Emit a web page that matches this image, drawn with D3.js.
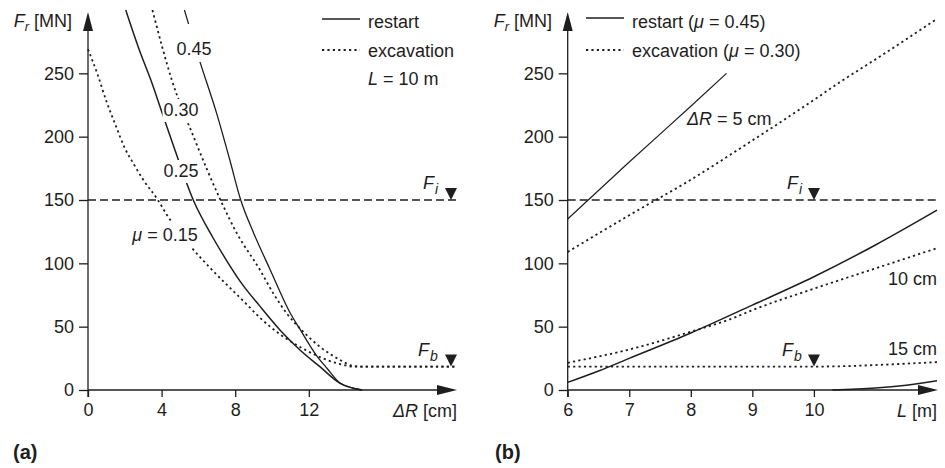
<!DOCTYPE html>
<html>
<head>
<meta charset="utf-8">
<script src="https://cdn.jsdelivr.net/npm/d3@7"></script>
<style>
  html, body { margin: 0; padding: 0; background: #fff; }
  svg { display: block; font-family: "Liberation Sans", Arial, Helvetica, sans-serif; }
</style>
</head>
<body>
<svg id="chart" width="945" height="468"></svg>
<script>
// ---- data -------------------------------------------------------------
// (a) required force F_r [MN] against radial deformation ΔR [cm], L = 10 m
const restart025 = [[2.05,300],[2.8,268],[3.46,243],[4.0,220],[4.64,193],[5.72,150],[6.8,120],[7.5,103],[8.26,86],[9.35,66],[10.43,47.4],[11.52,31.6],[12.6,18.4],[13.7,5.3],[14.9,0]];
const restart045 = [[5.24,300],[6,263],[7,218],[7.7,182],[8.3,150],[9.0,124],[9.9,95],[10.98,61],[11.52,48],[12.43,27],[13.0,17],[13.7,5.5],[14.9,0]];
const excav015   = [[0,269],[0.5,250],[1,228],[1.5,209],[2,191],[2.5,178],[3,166],[3.8,150],[4.3,138],[5,124],[5.6,113],[6.8,94],[7.9,78],[8.6,68],[9.35,57],[10.43,44],[11.52,34],[12.6,26],[13.7,20.5],[14.4,18.5],[20,18.5]];
const excav030   = [[3.5,300],[4.55,245],[5.82,197],[7.2,150],[8.08,124],[9.35,94.7],[10.07,76.3],[10.8,60.5],[11.7,46],[12.6,34.2],[13.7,23.7],[14.4,19],[14.8,18.5],[20,18.5]];

// (b) required force F_r [MN] against shield length L [m]
const restartDR5   = [[6,135],[7,180],[8,224],[8.58,250]];
const excavDR5     = [[6,109],[7,138],[8,166],[8.8,190.7],[9,197],[10,229],[10.42,243],[11,261],[12,293]];
const restartDR10  = [[6,6],[6.5,15],[7,25],[8,45],[9,67],[10,89.4],[11,114.5],[12,142]];
const excavDR10    = [[6,21.5],[7,32],[8,46],[8.7,57],[9,63],[10,80],[11,96],[12,112]];
const restartDR15  = [[10.3,0],[11,1.5],[11.5,3.8],[12,7.3]];
const excavDR15    = [[6,18.5],[10,18.5],[10.5,18.8],[11,19.7],[11.5,20.8],[12,22]];

const Fi = 150;     // installed thrust force
const Fb = 18.5;    // back-up force
const yTicks  = [0, 50, 100, 150, 200, 250];
const xTicksA = [0, 4, 8, 12];
const xTicksB = [6, 7, 8, 9, 10];

// ---- layout -----------------------------------------------------------
const ink = "#1e1e1e";
const svg = d3.select("#chart");
const y  = d3.scaleLinear().domain([0, 300]).range([390, 10]);
const xA = d3.scaleLinear().domain([0, 20]).range([88, 456]);
const xB = d3.scaleLinear().domain([6, 12]).range([567.7, 937]);

const DOT = "2.2,3.2", DASH = "8,4";

function panel(g, x, xTicks, yLabelRight) {
  // y axis
  const ya = g.append("g").attr("transform", `translate(${x.range()[0]},0)`)
    .call(d3.axisLeft(y).tickValues(yTicks).tickSize(9).tickPadding(5));
  ya.select(".domain").remove();
  ya.selectAll("line").attr("stroke", ink).attr("stroke-width", 1.3);
  ya.selectAll("text").attr("font-size", 18).attr("fill", ink).attr("font-family", null);
  // x axis
  const xa = g.append("g").attr("transform", `translate(0,${y(0)})`)
    .call(d3.axisBottom(x).tickValues(xTicks).tickSize(7).tickPadding(6).tickFormat(d3.format("d")));
  xa.select(".domain").remove();
  xa.selectAll("line").attr("stroke", ink).attr("stroke-width", 1.3);
  xa.selectAll("text").attr("font-size", 18).attr("fill", ink).attr("font-family", null);

  const x0 = x.range()[0], x1 = x.range()[1] + 1;
  g.append("line").attr("x1", x0).attr("x2", x0).attr("y1", y(0) + 7).attr("y2", 28)
    .attr("stroke", ink).attr("stroke-width", 1.3);
  g.append("line").attr("x1", x0).attr("x2", x1 - 18).attr("y1", y(0)).attr("y2", y(0))
    .attr("stroke", ink).attr("stroke-width", 1.3);
  g.append("path").attr("d", `M${x0},12 L${x0 - 5},31 L${x0 + 5},31 Z`).attr("fill", ink);
  g.append("path").attr("d", `M${x1},${y(0)} L${x1 - 20},${y(0) - 5} L${x1 - 20},${y(0) + 5} Z`).attr("fill", ink);

  // F_r [MN]
  const t = g.append("text").attr("x", yLabelRight).attr("y", 27).attr("text-anchor", "end")
    .attr("font-size", 18).attr("fill", ink);
  t.append("tspan").attr("font-style", "italic").text("F");
  t.append("tspan").attr("font-style", "italic").attr("font-size", 13).attr("dy", 4).text("r");
  t.append("tspan").attr("dy", -4).text(" [MN]");
}

function curve(g, x, data, dash, width) {
  const line = d3.line().x(d => x(d[0])).y(d => y(d[1])).curve(d3.curveMonotoneX);
  g.append("path").datum(data).attr("d", line).attr("fill", "none")
    .attr("stroke", ink).attr("stroke-width", width || 1.5)
    .attr("stroke-dasharray", dash || null);
}

function hline(g, x, v, dash) {
  g.append("line").attr("x1", x.range()[0]).attr("x2", x.range()[1] + 1)
    .attr("y1", y(v)).attr("y2", y(v)).attr("stroke", ink).attr("stroke-width", 1.4)
    .attr("stroke-dasharray", dash);
}

function marker(g, cx, v, name, sub, tx) {
  const yy = y(v);
  g.append("path").attr("d", `M${cx - 6},${yy - 12} L${cx + 6},${yy - 12} L${cx},${yy} Z`).attr("fill", ink);
  const t = g.append("text").attr("x", tx).attr("y", yy - 11).attr("font-size", 18)
    .attr("fill", ink).attr("font-style", "italic");
  t.append("tspan").text(name);
  t.append("tspan").attr("font-size", 14).attr("dy", 5).attr("dx", 1).text(sub);
}

function label(g, x0, yBase, parts, anchor, bg) {
  const t = g.append("text").attr("x", x0).attr("y", yBase).attr("font-size", 18)
    .attr("fill", ink).attr("text-anchor", anchor || "start");
  parts.forEach(p => {
    const s = t.append("tspan").text(p[0]);
    if (p[1]) s.attr("font-style", "italic");
  });
  if (bg) {
    const b = t.node().getBBox();
    g.insert("rect", function () { return t.node(); })
      .attr("x", b.x - bg[0]).attr("y", b.y - bg[1]).attr("width", b.width + 2 * bg[0])
      .attr("height", b.height + bg[1] + bg[2]).attr("fill", "#fff");
  }
  return t;
}

function legendRow(g, lx, yLine, yBase, dash, parts) {
  g.append("line").attr("x1", lx).attr("x2", lx + 38).attr("y1", yLine).attr("y2", yLine)
    .attr("stroke", ink).attr("stroke-width", dash ? 1.8 : 1.5).attr("stroke-dasharray", dash || null);
  label(g, lx + 46, yBase, parts);
}

// ---- panel (a) --------------------------------------------------------
const ga = svg.append("g");
hline(ga, xA, Fi, DASH);
curve(ga, xA, excav015, DOT, 1.8);
curve(ga, xA, excav030, DOT, 1.8);
curve(ga, xA, restart025, null, 1.5);
curve(ga, xA, restart045, null, 1.3);
panel(ga, xA, xTicksA, 72);

label(ga, 194, 55, [["0.45"]], "middle", [2, 15, 3]);
label(ga, 181, 116, [["0.30"]], "middle", [1, 1, 2]);
label(ga, 181, 177, [["0.25"]], "middle", [1, 1, 2]);
label(ga, 165, 241, [["μ", true], [" = 0.15"]], "middle", [2, 3, 3]);

marker(ga, 451, Fi, "F", "i", 423);
marker(ga, 451, Fb, "F", "b", 418);

legendRow(ga, 322, 19, 28, null, [["restart"]]);
legendRow(ga, 322, 50, 57, DOT, [["excavation"]]);
label(ga, 368, 85, [["L", true], [" = 10 m"]]);

// ΔR [cm]
label(ga, 457, 417, [["Δ", true], ["R", true], [" [cm]"]], "end");
ga.append("text").attr("x", 13).attr("y", 459).attr("font-size", 20).attr("font-weight", "bold")
  .attr("fill", ink).text("(a)");

// ---- panel (b) --------------------------------------------------------
const gb = svg.append("g");
hline(gb, xB, Fi, DASH);
curve(gb, xB, excavDR5, DOT, 1.8);
curve(gb, xB, excavDR10, DOT, 1.8);
curve(gb, xB, excavDR15, DOT, 1.8);
curve(gb, xB, restartDR5, null, 1.2);
curve(gb, xB, restartDR10, null, 1.5);
curve(gb, xB, restartDR15, null, 1.5);
panel(gb, xB, xTicksB, 552);

label(gb, 687, 125, [["Δ", true], ["R", true], [" = 5 cm"]]);
label(gb, 937, 285, [["10 cm"]], "end");
label(gb, 937, 355, [["15 cm"]], "end");

marker(gb, 814, Fi, "F", "i", 787);
marker(gb, 814, Fb, "F", "b", 782);

legendRow(gb, 586, 18, 28, null, [["restart ("], ["μ", true], [" = 0.45)"]]);
legendRow(gb, 586, 50, 57, DOT, [["excavation ("], ["μ", true], [" = 0.30)"]]);

label(gb, 937, 417, [["L", true], [" [m]"]], "end");
gb.append("text").attr("x", 495).attr("y", 459).attr("font-size", 20).attr("font-weight", "bold")
  .attr("fill", ink).text("(b)");
</script>
</body>
</html>
